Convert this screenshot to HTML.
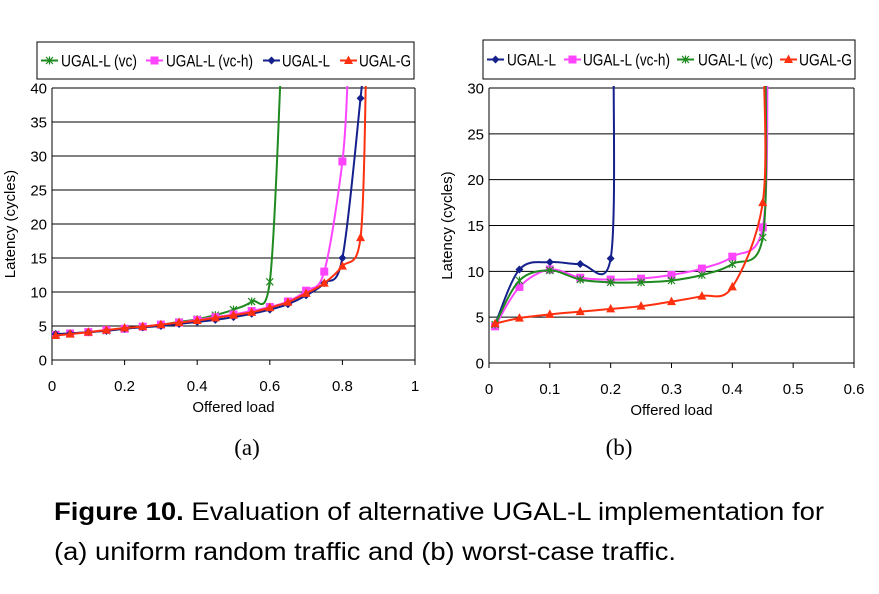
<!DOCTYPE html>
<html><head><meta charset="utf-8"><style>
body{margin:0;background:#fff}
svg{display:block;font-family:"Liberation Sans",sans-serif}
</style></head><body>
<svg id="fig" width="879" height="594" viewBox="0 0 879 594">
<g id="chartA"></g>
<g id="chartB"></g>
<text x="247" y="455" text-anchor="middle" font-family="Liberation Serif,serif" font-size="23">(a)</text>
<text x="619" y="455" text-anchor="middle" font-family="Liberation Serif,serif" font-size="23">(b)</text>
<text x="54" y="520" font-size="25" textLength="770" lengthAdjust="spacingAndGlyphs"><tspan font-weight="bold">Figure 10.</tspan> Evaluation of alternative UGAL-L implementation for</text>
<text x="54" y="560" font-size="25" textLength="622" lengthAdjust="spacingAndGlyphs">(a) uniform random traffic and (b) worst-case traffic.</text>
</svg>
<script>
// ---- Chart A data ----
const aXTicks=[0,0.2,0.4,0.6,0.8,1];
const aYTicks=[0,5,10,15,20,25,30,35,40];
const aX=[0.01,0.05,0.1,0.15,0.2,0.25,0.3,0.35,0.4,0.45,0.5,0.55,0.6,0.65,0.7,0.75,0.8,0.85];
const aVc=[3.8,3.9,4.1,4.3,4.6,4.9,5.2,5.6,6.0,6.6,7.4,8.6,11.5];
const aVcTailX=0.63, aVcTailY=42;
const aVch=[3.7,3.9,4.1,4.4,4.6,4.9,5.2,5.5,5.9,6.3,6.7,7.2,7.8,8.6,10.2,13,29.2];
const aVchTailX=0.815, aVchTailY=42;
const aL=[3.8,3.9,4.1,4.3,4.6,4.8,5.0,5.3,5.6,5.9,6.3,6.8,7.4,8.2,9.5,11.3,15,38.5];
const aLTailX=0.855, aLTailY=42;
const aG=[3.6,3.8,4.1,4.4,4.7,4.9,5.2,5.5,5.8,6.2,6.6,7.0,7.7,8.5,9.8,11.3,13.8,18];
const aGTailX=0.865, aGTailY=42;
// ---- Chart B data ----
const bXTicks=[0,0.1,0.2,0.3,0.4,0.5,0.6];
const bYTicks=[0,5,10,15,20,25,30];
const bX=[0.01,0.05,0.1,0.15,0.2,0.25,0.3,0.35,0.4,0.45];
const bL=[4.2,10.2,11,10.8,11.4];
const bLTailX=0.205, bLTailY=32;
const bVch=[4.0,8.3,10.2,9.3,9.1,9.2,9.6,10.3,11.6,14.8];
const bVchTailX=0.458, bVchTailY=32;
const bVc=[4.2,9.0,10.1,9.1,8.8,8.8,9.0,9.6,10.8,13.7];
const bVcTailX=0.455, bVcTailY=32;
const bG=[4.3,4.9,5.3,5.6,5.9,6.2,6.7,7.3,8.3,17.5];
const bGTailX=0.452, bGTailY=32;

const NS="http://www.w3.org/2000/svg";
const COL={vc:"#1f8a1f",vch:"#ff44ff",L:"#14208c",G:"#ff3010"};
function mk(tag,attrs,parent){const e=document.createElementNS(NS,tag);for(const k in attrs)e.setAttribute(k,attrs[k]);parent.appendChild(e);return e;}
function smooth(pts){let d="M"+pts[0][0]+","+pts[0][1];for(let i=0;i<pts.length-1;i++){const p0=pts[i-1]||pts[i],p1=pts[i],p2=pts[i+1],p3=pts[i+2]||p2;const t=0.5/3;
d+=" C"+(p1[0]+(p2[0]-p0[0])*t)+","+(p1[1]+(p2[1]-p0[1])*t)+" "+(p2[0]-(p3[0]-p1[0])*t)+","+(p2[1]-(p3[1]-p1[1])*t)+" "+p2[0]+","+p2[1];}return d;}
function marker(kind,x,y,c,g){let e;
 if(kind==="x"){e=mk("path",{d:`M${x-3.5},${y-3.5}L${x+3.5},${y+3.5}M${x+3.5},${y-3.5}L${x-3.5},${y+3.5}M${x},${y-4}L${x},${y+4}`,stroke:c,"stroke-width":1.2,fill:"none"},g);}
 else if(kind==="sq"){e=mk("rect",{x:x-4,y:y-4,width:8,height:8,fill:c},g);}
 else if(kind==="d"){e=mk("path",{d:`M${x},${y-4}L${x+4},${y}L${x},${y+4}L${x-4},${y}Z`,fill:c},g);}
 else{e=mk("path",{d:`M${x},${y-5}L${x+4.5},${y+3.5}L${x-4.5},${y+3.5}Z`,fill:c},g);}
 return e;}
function chart(g,id,L,R,T,B,xmax,ymax,xt,yt,xfmt,series,legend,lx,ly,lw,lh){
 const sx=v=>L+v/xmax*(R-L), sy=v=>B-v/ymax*(B-T);
 mk("rect",{x:L,y:T,width:R-L,height:B-T,fill:"#fff"},g);
 yt.forEach(v=>{const l=mk("line",{x1:L,x2:R,y1:sy(v),y2:sy(v),stroke:"#000","stroke-width":1},g);
  const t=mk("text",{x:L-5,y:sy(v)+5.5,"text-anchor":"end","font-size":15},g);t.textContent=v;});
 mk("line",{x1:L,x2:L,y1:T,y2:B,stroke:"#000"},g);mk("line",{x1:R,x2:R,y1:T,y2:B,stroke:"#000"},g);
 xt.forEach(v=>{mk("line",{x1:sx(v),x2:sx(v),y1:B,y2:B+5,stroke:"#000"},g);
  const t=mk("text",{x:sx(v),y:B+31,"text-anchor":"middle","font-size":15},g);t.textContent=xfmt(v);});
 const xtitle=mk("text",{x:(L+R)/2,y:B+52,"text-anchor":"middle","font-size":15},g);xtitle.textContent="Offered load";
 
 const ytitle=mk("text",{x:0,y:0,"text-anchor":"middle","font-size":15,transform:`translate(${L-37},${(T+B)/2}) rotate(-90)`},g);ytitle.textContent="Latency (cycles)";
 
 const cp=mk("clipPath",{id:id+"clip"},g);mk("rect",{x:L,y:T-2,width:R-L,height:B-T+4},cp);
 series.forEach(s=>{const sg=mk("g",{"clip-path":`url(#${id}clip)`},g);
  const pts=s.y.map((v,i)=>[sx(s.x[i]),sy(v)]);pts.push([sx(s.tx),sy(s.ty)]);
  const p=mk("path",{d:smooth(pts),fill:"none",stroke:s.c,"stroke-width":2},sg);
  s.y.forEach((v,i)=>{const m=marker(s.m,sx(s.x[i]),sy(v),s.c,sg);});});
 const lg=mk("g",{},g);
 mk("rect",{x:lx,y:ly,width:lw,height:lh,fill:"#fff",stroke:"#000"},lg);
 legend.forEach(e=>{const s=series.find(q=>q.name===e.n);const cy=ly+lh/2;
  mk("line",{x1:e.x,x2:e.x+17,y1:cy,y2:cy,stroke:s.c,"stroke-width":2},lg);marker(s.m,e.x+8.5,cy,s.c,lg);
  const t=mk("text",{x:e.tx,y:cy+6,"font-size":17,textLength:e.w,lengthAdjust:"spacingAndGlyphs"},lg);t.textContent=e.label;});
}
const gA=document.getElementById("chartA");
chart(gA,"a",52,415,88,360,1,40,aXTicks,aYTicks,v=>String(v),[
 {name:"ugal-l-vc",x:aX,y:aVc,tx:aVcTailX,ty:aVcTailY,c:COL.vc,m:"x"},
 {name:"ugal-l-vch",x:aX,y:aVch,tx:aVchTailX,ty:aVchTailY,c:COL.vch,m:"sq"},
 {name:"ugal-l",x:aX,y:aL,tx:aLTailX,ty:aLTailY,c:COL.L,m:"d"},
 {name:"ugal-g",x:aX,y:aG,tx:aGTailX,ty:aGTailY,c:COL.G,m:"t"}],
 [{n:"ugal-l-vc",x:41,tx:61,w:76,label:"UGAL-L (vc)"},{n:"ugal-l-vch",x:146,tx:166,w:87,label:"UGAL-L (vc-h)"},{n:"ugal-l",x:263,tx:282,w:48,label:"UGAL-L"},{n:"ugal-g",x:340,tx:359,w:52,label:"UGAL-G"}],
 37,42,377,37);
const gB=document.getElementById("chartB");
chart(gB,"b",489,854,88,363,0.6,30,bXTicks,bYTicks,v=>String(v),[
 {name:"ugal-l",x:bX,y:bL,tx:bLTailX,ty:bLTailY,c:COL.L,m:"d"},
 {name:"ugal-l-vch",x:bX,y:bVch,tx:bVchTailX,ty:bVchTailY,c:COL.vch,m:"sq"},
 {name:"ugal-l-vc",x:bX,y:bVc,tx:bVcTailX,ty:bVcTailY,c:COL.vc,m:"x"},
 {name:"ugal-g",x:bX,y:bG,tx:bGTailX,ty:bGTailY,c:COL.G,m:"t"}],
 [{n:"ugal-l",x:487,tx:507,w:49,label:"UGAL-L"},{n:"ugal-l-vch",x:564,tx:583,w:87,label:"UGAL-L (vc-h)"},{n:"ugal-l-vc",x:677,tx:698,w:75,label:"UGAL-L (vc)"},{n:"ugal-g",x:780,tx:799,w:53,label:"UGAL-G"}],
 483,40,372,39);
</script>
</body></html>
